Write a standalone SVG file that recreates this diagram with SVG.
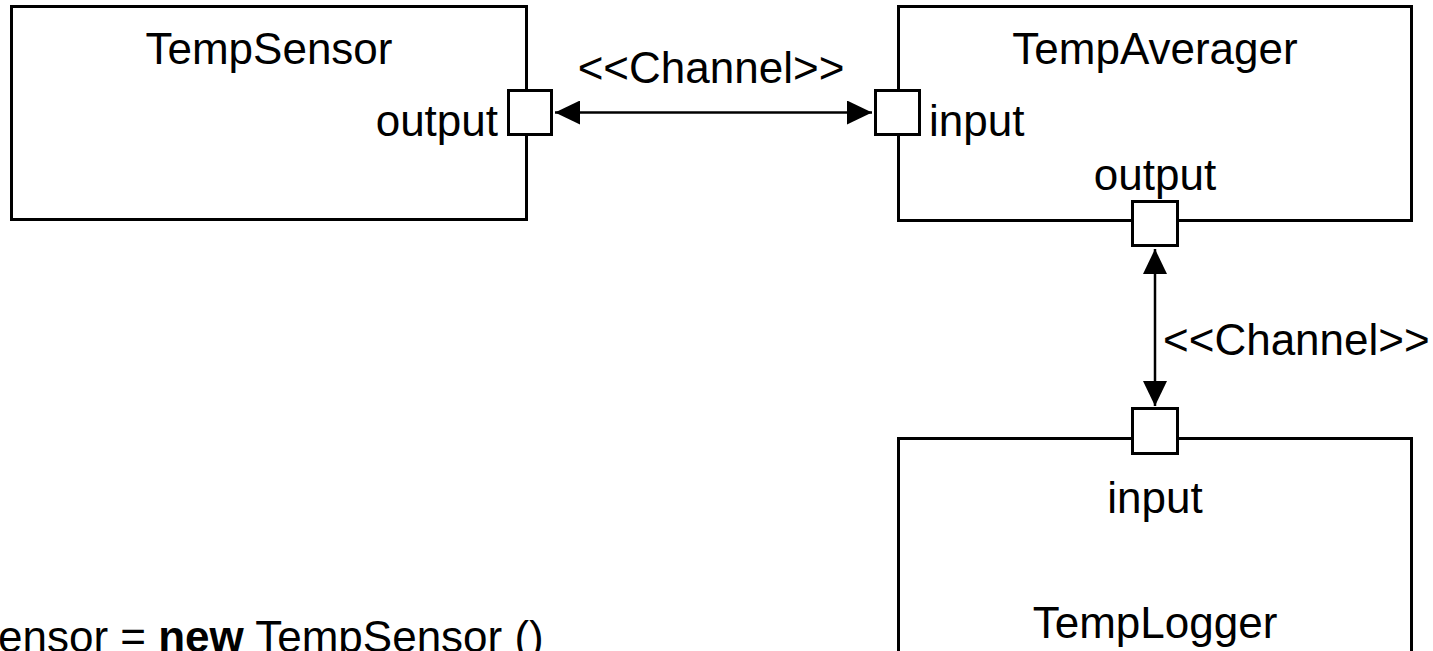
<svg xmlns="http://www.w3.org/2000/svg" width="1433" height="651" viewBox="0 0 1433 651">
<defs>
<style>
.box{fill:#fff;stroke:#000;stroke-width:3}
.port{fill:#fff;stroke:#000;stroke-width:3}
.t{font-family:"Liberation Sans",Arial,sans-serif;font-size:44px;fill:#000}
.conn{stroke:#000;stroke-width:2.5;fill:none;marker-start:url(#ah);marker-end:url(#ah)}
</style>
<marker id="ah" markerUnits="userSpaceOnUse" markerWidth="26" markerHeight="24" refX="25" refY="12" orient="auto-start-reverse" viewBox="0 0 26 24">
<path d="M0,0 L25,12 L0,24 z" fill="#000"/>
</marker>
</defs>
<rect width="1433" height="651" fill="#fff"/>
<g id="TempSensor">
<rect class="box" x="11.5" y="6.5" width="515" height="213"/>
<text class="t" x="269" y="64" text-anchor="middle">TempSensor</text>
<text class="t" x="498" y="136" text-anchor="end">output</text>
<rect class="port" x="508.5" y="90.5" width="43" height="44"/>
</g>
<g id="TempAverager">
<rect class="box" x="898.5" y="6.5" width="513" height="214"/>
<text class="t" x="1155" y="64" text-anchor="middle">TempAverager</text>
<text class="t" x="929" y="136">input</text>
<text class="t" x="1155" y="190" text-anchor="middle">output</text>
<rect class="port" x="875.5" y="90.5" width="44" height="44"/>
<rect class="port" x="1132.5" y="201.5" width="45" height="44"/>
</g>
<g id="TempLogger">
<rect class="box" x="898.5" y="438.5" width="513" height="240"/>
<text class="t" x="1155" y="513" text-anchor="middle">input</text>
<text class="t" x="1155" y="638" text-anchor="middle">TempLogger</text>
<rect class="port" x="1132.5" y="408.5" width="45" height="45"/>
</g>
<g id="connectors">
<line class="conn" x1="555" y1="112.5" x2="872" y2="112.5"/>
<text class="t" x="711" y="83" text-anchor="middle">&lt;&lt;Channel&gt;&gt;</text>
<line class="conn" x1="1155" y1="249" x2="1155" y2="406"/>
<text class="t" x="1163" y="355">&lt;&lt;Channel&gt;&gt;</text>
</g>
<g id="code">
<text class="t" x="-2" y="652">ensor = <tspan font-weight="bold">new</tspan> TempSensor ()</text>
</g>
</svg>
